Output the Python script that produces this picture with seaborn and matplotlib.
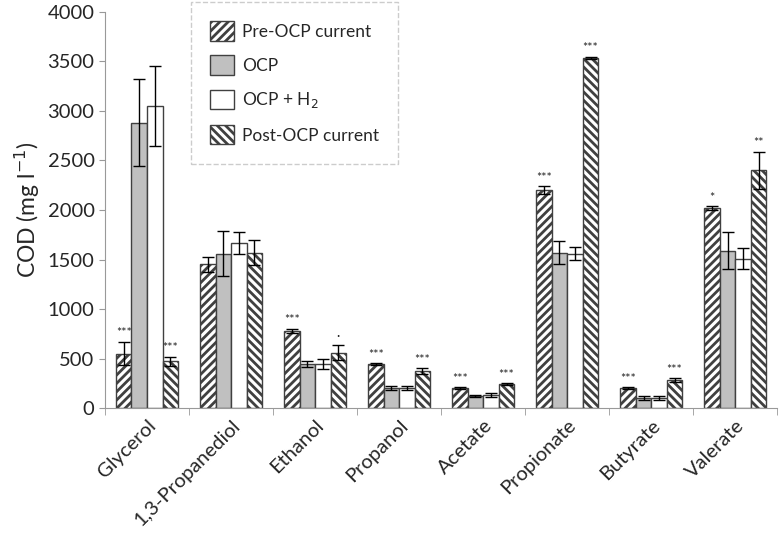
import numpy as np
import pandas as pd
import seaborn as sns
import matplotlib.pyplot as plt

#chart data
substrates = ["Glycerol", "1,3-Propanediol", "Ethanol", "Propanol", "Acetate",
              "Propionate", "Butyrate", "Valerate"]
conditions = ["Pre-OCP current", "OCP", "OCP + H$_2$", "Post-OCP current"]

pre_ocp = [550, 1450, 780, 440, 200, 2200, 200, 2020]
ocp = [2880, 1560, 440, 200, 120, 1570, 100, 1590]
ocp_h2 = [3050, 1670, 440, 200, 130, 1560, 105, 1510]
post_ocp = [470, 1570, 560, 370, 240, 3540, 280, 2400]

pre_err = [120, 80, 20, 10, 8, 40, 8, 20]
ocp_err = [440, 230, 30, 20, 8, 120, 20, 190]
h2_err = [400, 110, 50, 20, 20, 70, 20, 110]
post_err = [50, 130, 80, 30, 8, 10, 20, 190]

pre_sig = ["***", "", "***", "***", "***", "***", "***", "*"]
post_sig = ["***", "", "·", "***", "***", "***", "***", "**"]

values = [pre_ocp, ocp, ocp_h2, post_ocp]
errors = [pre_err, ocp_err, h2_err, post_err]
signif = [pre_sig, None, None, post_sig]

rows = []
for cond, vals in zip(conditions, values):
    for sub, v in zip(substrates, vals):
        rows.append({"substrate": sub, "condition": cond, "cod": v})
df = pd.DataFrame(rows)

sns.set_style("white")
plt.rcParams['font.family'] = ['Lato', 'DejaVu Sans']
plt.rcParams['hatch.linewidth'] = 2.0
plt.rcParams['hatch.color'] = 'black'

fig = plt.figure(figsize=(7.8, 5.33), dpi=100)
ax = fig.add_axes([0.1346, 0.2345, 0.862, 0.743])

palette = {"Pre-OCP current": "white", "OCP": "#c0c0c0",
           "OCP + H$_2$": "white", "Post-OCP current": "white"}
sns.barplot(data=df, x="substrate", y="cod", hue="condition", palette=palette,
            width=0.74, errorbar=None, edgecolor="#404040", linewidth=1.0,
            saturation=1, ax=ax)

hatches = ["////", "", "", "\\\\\\\\"]
bar_groups = list(ax.containers)
for i, cont in enumerate(bar_groups):
    for bar in cont:
        bar.set_hatch(hatches[i])
    xs = [b.get_x() + b.get_width() / 2 for b in cont]
    hs = [b.get_height() for b in cont]
    ax.errorbar(xs, hs, yerr=errors[i], fmt="none", ecolor="black",
                elinewidth=1.0, capsize=4, capthick=1.0)
    if signif[i] is not None:
        for x, h, e, s in zip(xs, hs, errors[i], signif[i]):
            if s:
                ax.text(x, h + e + 25, s, ha="center", va="bottom",
                        fontsize=9, color="#222222")

ax.set_ylim(0, 4000)
ax.set_xlim(-0.5, 7.5)
ax.set_yticks(np.arange(0, 4001, 500))
ax.tick_params(axis="y", labelsize=14.5, length=4, color="#999999", left=True)
ax.set_xticks(np.arange(-0.5, 8, 1), minor=True)
ax.tick_params(axis="x", which="major", length=0, labelsize=14.5, pad=6)
ax.tick_params(axis="x", which="minor", length=5, color="#999999", bottom=True)
ax.set_xticklabels(substrates, rotation=45, ha="right", rotation_mode="anchor")
ax.set_xlabel("")
ax.set_ylabel("COD (mg l$^{-1}$)", fontsize=16.5)

sns.despine(ax=ax)
for side in ["left", "bottom"]:
    ax.spines[side].set_color("#999999")

leg = ax.legend(title=None, loc="upper left", bbox_to_anchor=(0.128, 1.025),
                fontsize=12.5, handlelength=1.35, handleheight=1.35,
                handletextpad=0.5, labelspacing=0.85, borderpad=1.1,
                borderaxespad=0, fancybox=False, framealpha=1)
leg.get_frame().set_edgecolor("#cccccc")
leg.get_frame().set_linestyle("--")
for patch, h in zip(leg.get_patches(), hatches):
    patch.set_hatch(h)

fig.savefig("out.png", dpi=100)
